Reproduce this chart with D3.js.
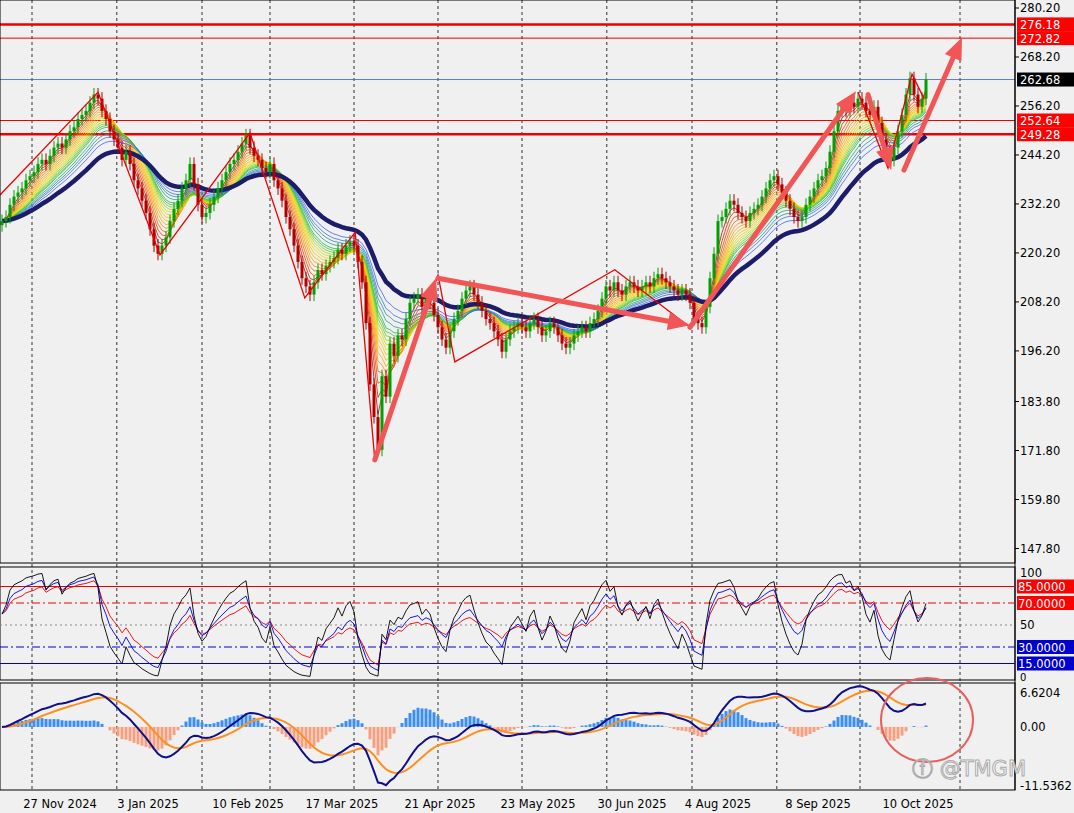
<!DOCTYPE html><html><head><meta charset="utf-8">
<script src="https://cdn.jsdelivr.net/npm/d3@7/dist/d3.min.js"></script>
<style>body{margin:0;background:#fff}svg{display:block}</style></head><body>
<svg id="c" width="1074" height="813"></svg>
<script>
const closes=[228,229,232,234,235,236,238,239,240,242,
243,242,244,246,247,246,248,250,251,253,
254,255,257,259,258,255,253,250,248,246,
243,245,242,238,236,233,230,226,222,220,
222,224,228,231,233,236,238,242,237,232,
229,230,232,234,236,238,240,242,243,245,
247,249,246,244,243,241,240,242,238,236,
233,229,226,222,218,214,212,210,213,216,
215,217,218,219,221,220,222,223,222,218,
213,203,188,180,172,190,185,198,195,200,
199,204,208,209,210,207,209,208,205,202,
199,197,201,204,206,209,211,212,210,208,
206,204,203,201,199,196,199,201,202,203,
202,201,203,204,202,200,201,203,202,200,
198,197,198,200,201,202,201,203,204,206,
209,212,211,213,211,210,212,213,212,211,
212,213,212,214,215,214,213,212,211,210,
211,210,208,204,203,202,207,214,220,228,
229,231,233,232,230,229,228,230,231,232,
234,236,238,239,237,235,233,231,229,228,
229,232,234,236,238,239,241,245,250,255,
256,255,257,256,258,257,255,254,256,252,
248,245,243,246,250,254,259,263,259,256,258,262.68];
const priceTicks=[280.20,268.20,256.20,244.20,232.20,220.20,208.20,196.20,183.80,171.80,159.80,147.80];
const dateLabels=["27 Nov 2024","3 Jan 2025","10 Feb 2025","17 Mar 2025","21 Apr 2025","23 May 2025","30 Jun 2025","4 Aug 2025","8 Sep 2025","10 Oct 2025"];
const dateLabelIdx=[14.5,36.5,61.5,85,109.5,134,157.5,179,204,229];
const gridIdx=[7.5,28.7,50,67,88,109,130,151.2,172.5,193.7,214.5,239.5];
const levels=[{p:276.18,c:"#e00",w:2.5,lab:true},{p:272.82,c:"#e00",w:1,lab:true},{p:262.68,c:"#3060d0",w:0.8,lab:"k"},{p:252.64,c:"#e00",w:1,lab:true},{p:249.28,c:"#e00",w:2.5,lab:true}];
const zigzag=[[-0.5,234.4],[24,259.6],[39.5,219.7],[62,249.6],[75.7,209.2],[88.3,225.3],[93.2,169.5],[109,214.8],[113.2,193.5],[153.2,216.1],[172,202]];
const zig2=[[214,259.6],[221.5,241],[227.5,264],[230.5,258]];
const arrows=[[[93.2,169.5],[108.5,214]],[[109,214],[172,202.5]],[[172,202],[213.5,259.8]],[[216.5,259],[222.3,240.5]],[[225.5,240.5],[240,273]]];
const oscLevels=[{v:85,c:"#e00",d:null,lab:"85.0000",bg:"#f00"},{v:70,c:"#e00",d:"8,3,2,3",lab:"70.0000",bg:"#f00"},{v:50,c:"#888",d:"2,3"},{v:30,c:"#00c",d:"8,3,2,3",lab:"30.0000",bg:"#00c"},{v:15,c:"#00c",d:null,lab:"15.0000",bg:"#00c"}];
const emaPeriods=[3,4,5,6,7,8,9,10,11,12,13,14,15,16,18,20,22,25];

const svg=d3.select("#c");
const W=1074,PR=1015;
svg.append("rect").attr("width",W).attr("height",813).attr("fill","#f0f0f0");
const x=d3.scaleLinear().domain([0,1]).range([2,6]);
const y=d3.scaleLinear().domain([280.2,147.8]).range([8,548.5]);
const yo=d3.scaleLinear().domain([0,100]).range([680,570]);
const ym=d3.scaleLinear().domain([-11.5362,6.6204]).range([786,693]);
const font="Tahoma, 'DejaVu Sans', sans-serif";

function ema(a,n){const k=2/(n+1);let r=[],e=a[0];a.forEach((v,i)=>{e=i?v*k+e*(1-k):v;r.push(e)});return r;}
function rsi(a,n){let r=[60],g=0.6,l=0.4;for(let i=1;i<a.length;i++){const d=a[i]-a[i-1];g=(g*(n-1)+Math.max(d,0))/n;l=(l*(n-1)+Math.max(-d,0))/n;r.push(l===0?100:100-100/(1+g/l));}return r;}

const gv=svg.append("g");
gridIdx.forEach(i=>gv.append("line").attr("x1",x(i)).attr("x2",x(i)).attr("y1",0).attr("y2",790).attr("stroke","#000").attr("stroke-dasharray","3,3").attr("stroke-width",0.8));

levels.forEach(l=>svg.append("line").attr("x1",0).attr("x2",PR).attr("y1",y(l.p)).attr("y2",y(l.p)).attr("stroke",l.c).attr("stroke-width",l.w));

const col=d3.scaleLinear().domain([0,0.25,0.5,0.75,1]).range(["#d00000","#ff9900","#e8e000","#20c040","#4060ff"]);
const line=d3.line().x((d,i)=>x(i)).y(d=>y(d));
emaPeriods.forEach((p,j)=>svg.append("path").attr("d",line(ema(closes,p))).attr("fill","none").attr("stroke",col(j/(emaPeriods.length-1))).attr("stroke-width",0.8));
svg.append("path").attr("d",line(ema(closes,34))).attr("fill","none").attr("stroke","#1c1c6a").attr("stroke-width",4.5);

const cg=svg.append("g");
closes.forEach((c,i)=>{const o=i?closes[i-1]:c-1;const up=c>=o;const hi=Math.max(o,c)+1.6,lo=Math.min(o,c)-1.6;const cl=up?"#00a000":"#b00000";
cg.append("line").attr("x1",x(i)).attr("x2",x(i)).attr("y1",y(hi)).attr("y2",y(lo)).attr("stroke",cl);
cg.append("rect").attr("x",x(i)-1.5).attr("width",3).attr("y",y(Math.max(o,c))).attr("height",Math.max(1,y(Math.min(o,c))-y(Math.max(o,c)))).attr("fill",cl);});

const pl=d3.line().x(d=>x(d[0])).y(d=>y(d[1]));
svg.append("path").attr("d",pl(zigzag)).attr("fill","none").attr("stroke","#e00").attr("stroke-width",1.3);
svg.append("path").attr("d",pl(zig2)).attr("fill","none").attr("stroke","#e00").attr("stroke-width",1.3);
arrows.forEach(a=>{const x1=x(a[0][0]),y1=y(a[0][1]),x2=x(a[1][0]),y2=y(a[1][1]);const ang=Math.atan2(y2-y1,x2-x1);const L=22,Wd=9;
const bx=x2-L*Math.cos(ang),by=y2-L*Math.sin(ang);
svg.append("line").attr("x1",x1).attr("y1",y1).attr("x2",bx).attr("y2",by).attr("stroke","#f25555").attr("stroke-width",5).attr("stroke-linecap","round");
const px=-Math.sin(ang)*Wd,py=Math.cos(ang)*Wd;
svg.append("path").attr("d",`M${x2},${y2}L${bx+px},${by+py}L${bx-px},${by-py}Z`).attr("fill","#f25555");});

svg.append("rect").attr("x",0).attr("y",0).attr("width",PR).attr("height",563).attr("fill","none").attr("stroke","#000");
svg.append("rect").attr("x",0).attr("y",567).attr("width",PR).attr("height",113).attr("fill","none").attr("stroke","#000");
svg.append("rect").attr("x",0).attr("y",683).attr("width",PR).attr("height",107).attr("fill","none").attr("stroke","#000");
svg.append("rect").attr("x",PR+1).attr("y",0).attr("width",60).attr("height",813).attr("fill","#f0f0f0");
svg.append("line").attr("x1",PR).attr("x2",PR).attr("y1",0).attr("y2",790).attr("stroke","#000");

priceTicks.forEach(t=>{svg.append("line").attr("x1",PR).attr("x2",PR+4).attr("y1",y(t)).attr("y2",y(t)).attr("stroke","#000");
svg.append("text").attr("x",PR+5).attr("y",y(t)+4).text(t.toFixed(2)).attr("font-family",font).attr("font-size",11.5);});
levels.forEach(l=>{const g=svg.append("g");g.append("rect").attr("x",PR+2).attr("y",y(l.p)-7).attr("width",57).attr("height",14).attr("fill",l.lab==="k"?"#000":"#f00");
g.append("text").attr("x",PR+5).attr("y",y(l.p)+4.5).text(l.p.toFixed(2)).attr("fill","#fff").attr("font-family",font).attr("font-size",11.5);});

const r1=rsi(closes,5),r2=rsi(closes,9),r3=rsi(closes,14);
oscLevels.forEach(l=>{svg.append("line").attr("x1",0).attr("x2",PR).attr("y1",yo(l.v)).attr("y2",yo(l.v)).attr("stroke",l.c).attr("stroke-dasharray",l.d).attr("stroke-width",1);
if(l.lab){svg.append("rect").attr("x",PR+2).attr("y",yo(l.v)-7).attr("width",57).attr("height",14).attr("fill",l.bg);svg.append("text").attr("x",PR+3).attr("y",yo(l.v)+4.5).text(l.lab).attr("fill","#fff").attr("font-family",font).attr("font-size",11.5);}});
[[577,"100"],[yo(50)+4,"50"],[681,"0"]].forEach(t=>svg.append("text").attr("x",PR+5).attr("y",t[0]).text(t[1]).attr("font-family",font).attr("font-size",t[1]==="0"?10:11.5));
const ol=d3.line().x((d,i)=>x(i)).y(d=>yo(d));
svg.append("path").attr("d",ol(r3)).attr("fill","none").attr("stroke","#e00").attr("stroke-width",0.9);
svg.append("path").attr("d",ol(r2)).attr("fill","none").attr("stroke","#0000e0").attr("stroke-width",0.9);
svg.append("path").attr("d",ol(r1)).attr("fill","none").attr("stroke","#000").attr("stroke-width",0.9);

const e12=ema(closes,12),e26=ema(closes,26);const macd=e12.map((v,i)=>v-e26[i]);const sig=ema(macd,9);const hist=macd.map((v,i)=>(v-sig[i])*1.3);
hist.forEach((h,i)=>{if(i<3)return;svg.append("rect").attr("x",x(i)-1.5).attr("width",3).attr("y",Math.min(ym(h),ym(0))).attr("height",Math.abs(ym(h)-ym(0))).attr("fill",h>=0?"#3c8ef0":"#f7a080");});
const ml=d3.line().x((d,i)=>x(i)).y(d=>ym(d));
svg.append("path").attr("d",ml(sig)).attr("fill","none").attr("stroke","#ff9020").attr("stroke-width",2);
svg.append("path").attr("d",ml(macd)).attr("fill","none").attr("stroke","#10108a").attr("stroke-width",2);
[[6.6204,"6.6204"],[0,"0.00"],[-11.5362,"-11.5362"]].forEach(t=>svg.append("text").attr("x",PR+5).attr("y",ym(t[0])+4).text(t[1]).attr("font-family",font).attr("font-size",11.5));
svg.append("ellipse").attr("cx",927).attr("cy",720).attr("rx",46).attr("ry",42).attr("fill","none").attr("stroke","#e86060").attr("stroke-width",2);
svg.append("text").attr("x",912).attr("y",776).text("ⓕ @TMGM").attr("font-family","'DejaVu Sans',sans-serif").attr("font-size",21).attr("fill","#fff").attr("stroke","#aaa").attr("stroke-width",1);

dateLabels.forEach((d,k)=>svg.append("text").attr("x",x(dateLabelIdx[k])).attr("y",808).attr("text-anchor","middle").text(d).attr("font-family",font).attr("font-size",11.5));
</script></body></html>
